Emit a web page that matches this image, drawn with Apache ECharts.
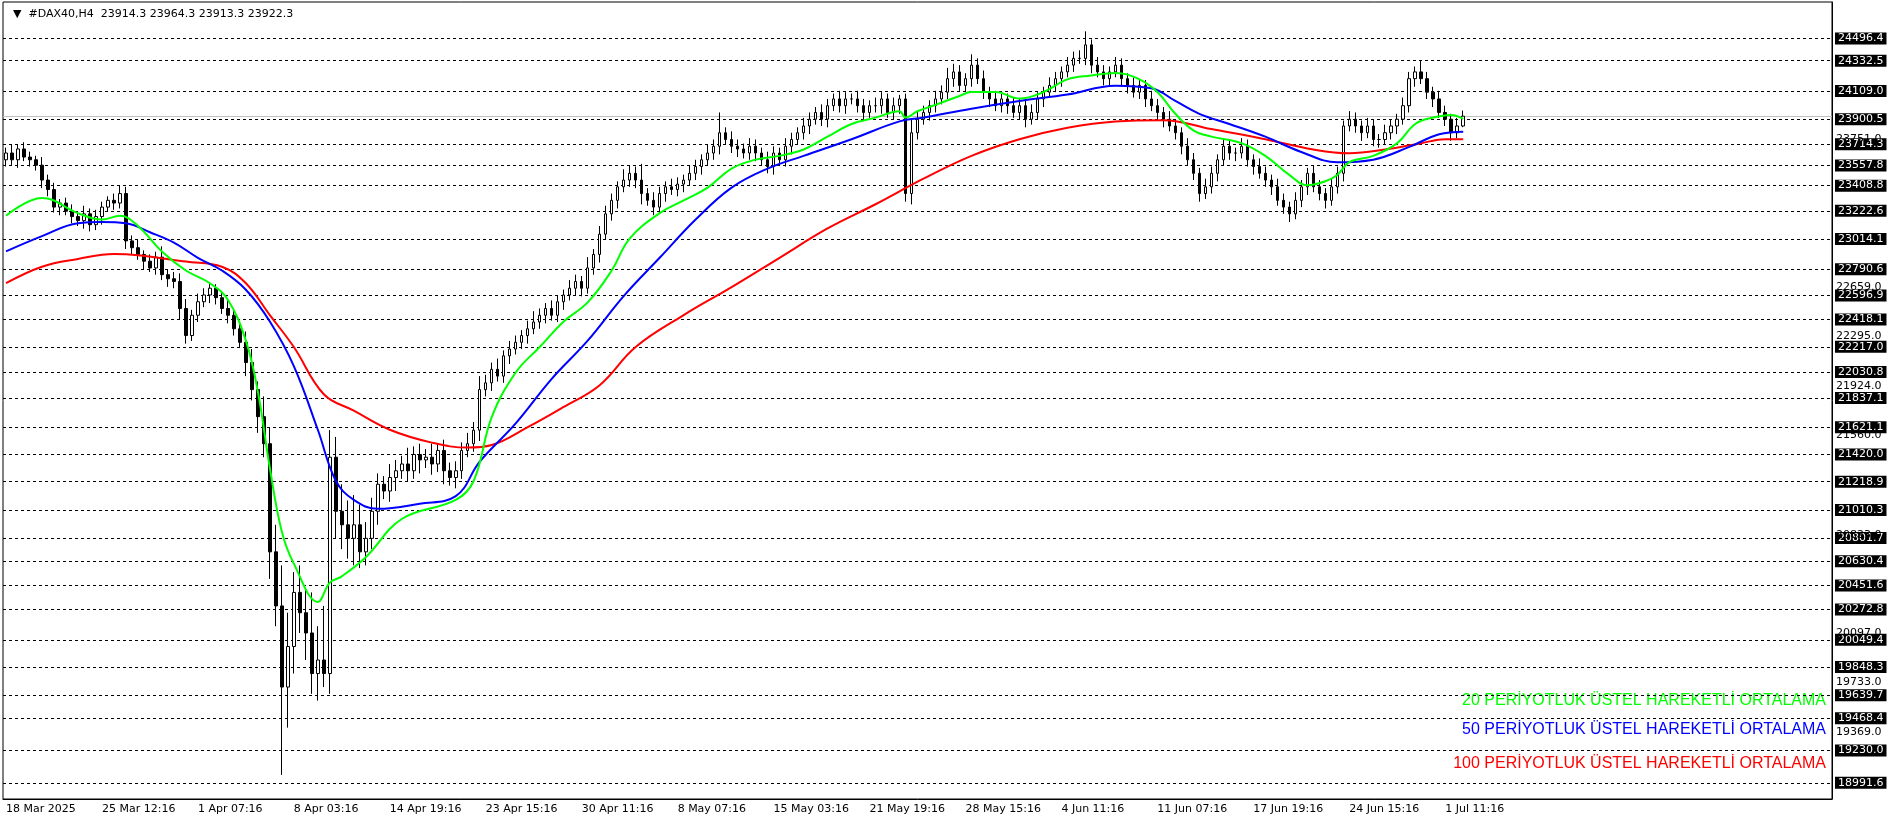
<!DOCTYPE html>
<html><head><meta charset="utf-8">
<script src="https://cdn.jsdelivr.net/npm/echarts@6/dist/echarts.min.js"></script>
<style>html,body{margin:0;padding:0;background:#fff}#c{width:1896px;height:820px}</style>
</head><body><div id="c"></div>
<script>
const closes=[23650,23600,23680,23620,23600,23560,23450,23380,23250,23280,
23220,23180,23150,23200,23120,23180,23250,23300,23280,23350,
23000,22950,22900,22850,22800,22880,22750,22720,22700,22500,
22300,22450,22550,22600,22650,22580,22500,22450,22350,22250,
22100,21900,21700,21500,20700,20300,19700,20000,20400,20250,
20100,19800,19900,19800,21400,21000,20900,20800,20900,20700,
20800,21000,21200,21150,21250,21300,21350,21300,21420,21380,
21400,21350,21450,21300,21250,21300,21450,21500,21600,21900,
21950,22050,22000,22150,22200,22250,22300,22350,22400,22450,
22500,22450,22550,22600,22650,22700,22650,22800,22900,23050,
23200,23300,23400,23450,23500,23450,23350,23300,23250,23350,
23400,23380,23420,23450,23500,23550,23600,23650,23700,23800,
23750,23700,23680,23650,23700,23650,23600,23550,23650,23600,
23700,23750,23800,23850,23900,23950,23900,24000,24050,24000,
24050,24050,24000,23950,24000,24000,24050,23950,24000,24050,
23350,23800,23900,23950,24000,24050,24100,24200,24250,24150,
24200,24300,24200,24100,24050,24000,24050,24000,23950,24000,
23900,23950,24050,24100,24150,24200,24250,24300,24350,24350,
24450,24300,24250,24200,24250,24300,24200,24150,24100,24150,
24050,24000,23950,23900,23850,23800,23700,23600,23500,23350,
23400,23500,23600,23700,23650,23650,23700,23600,23550,23500,
23450,23400,23300,23250,23200,23300,23400,23500,23400,23350,
23300,23400,23500,23850,23900,23850,23800,23850,23750,23750,
23800,23850,23900,24000,24200,24250,24200,24100,24050,23950,
23900,23800,23850,23922.3];
const firstOpen=23600;
const hiWick=[40,60,30,50,40,30,60,40,50,30,40,50,30,60,40,50,40,30,50,60,
50,40,60,30,50,40,80,40,50,60,70,40,60,50,40,30,50,60,40,50,
80,100,60,150,120,200,300,250,150,200,180,300,250,400,200,150,200,180,220,150,
120,100,80,60,100,80,60,120,60,80,60,100,50,80,60,70,60,80,60,100,
60,50,80,40,60,50,40,60,80,50,40,60,50,40,60,50,40,80,40,60,
60,50,40,80,60,50,120,40,60,50,40,60,50,40,60,50,40,60,50,150,
40,60,50,40,60,50,40,60,50,40,60,50,40,60,50,40,60,50,40,60,
50,40,60,50,40,60,50,40,60,30,40,100,60,50,40,60,50,80,60,50,
40,80,50,60,40,60,50,40,60,50,40,60,50,40,60,50,40,60,50,60,
100,40,60,50,40,60,50,40,60,50,40,60,50,40,60,50,40,60,50,40,
60,50,40,60,50,40,60,50,40,60,50,40,60,50,40,60,50,40,60,50,
40,60,50,40,60,50,40,60,50,40,60,50,40,60,50,40,80,50,40,60,
50,40,60,42];
const loWick=[50,40,60,30,50,40,60,50,40,60,30,50,40,60,50,40,60,30,50,40,
60,50,40,60,30,50,40,60,50,80,60,40,50,40,60,50,40,60,50,40,
100,80,120,100,200,150,650,300,200,150,200,150,200,100,150,200,180,150,200,120,
100,80,100,60,80,100,60,80,60,100,60,80,60,100,60,80,60,50,60,80,
50,60,40,50,60,40,50,60,40,50,60,40,50,60,40,50,60,40,50,60,
40,50,60,40,50,60,80,40,60,50,60,40,50,60,40,50,60,40,50,60,
40,50,60,40,50,60,40,50,60,40,50,60,40,50,60,40,50,60,40,50,
60,40,50,60,40,50,60,40,50,60,60,80,50,40,60,50,40,50,60,40,
50,60,40,50,60,40,50,60,40,50,60,40,50,60,40,50,60,40,50,40,
50,60,40,50,60,40,50,60,40,50,60,40,50,60,40,50,60,40,50,60,
40,50,60,40,50,60,40,50,60,40,50,60,40,50,60,40,50,60,40,50,
60,40,50,60,40,50,60,40,50,60,40,50,60,40,50,60,40,50,60,40,
50,60,40,9];
const ema20=[[0,23186],[6,23318],[12,23205],[16,23158],[19,23186],[22,23111],[26,22922],[30,22781],[34,22687],[37,22564],[40,22262],[42,21885],[44,21320],[46,20849],[48,20613],[52,20330],[54,20472],[56,20519],[60,20660],[66,20943],[75,21084],[78,21226],[81,21697],[85,22027],[89,22215],[93,22404],[97,22545],[101,22781],[104,23017],[109,23205],[113,23299],[117,23394],[121,23535],[125,23601],[129,23629],[133,23676],[137,23771],[141,23865],[145,23912],[149,23959],[150,23912],[152,23959],[155,24006],[159,24072],[161,24101],[165,24101],[169,24053],[173,24101],[177,24195],[181,24223],[185,24242],[189,24195],[192,24101],[195,23940],[198,23818],[201,23771],[206,23723],[210,23629],[214,23488],[217,23412],[220,23441],[222,23488],[224,23582],[228,23629],[232,23723],[235,23865],[238,23912],[241,23931],[243,23903]];
const ema50=[[0,22922],[6,23035],[12,23130],[16,23139],[20,23130],[24,23064],[28,22988],[32,22875],[36,22781],[40,22639],[44,22404],[48,22074],[52,21603],[55,21226],[58,21084],[62,21018],[69,21056],[75,21112],[79,21367],[85,21650],[91,21980],[97,22262],[103,22592],[109,22875],[115,23158],[121,23394],[127,23535],[133,23629],[141,23752],[149,23884],[153,23912],[161,23978],[169,24035],[177,24082],[185,24148],[191,24129],[195,24035],[199,23940],[204,23865],[210,23771],[216,23658],[222,23582],[228,23601],[234,23695],[239,23789],[243,23808]];
const ema100=[[0,22687],[6,22809],[12,22866],[18,22903],[22,22894],[30,22847],[36,22809],[40,22687],[44,22451],[48,22215],[53,21866],[58,21744],[64,21603],[71,21508],[77,21471],[81,21490],[87,21622],[93,21772],[99,21933],[105,22215],[113,22451],[121,22658],[129,22875],[137,23092],[145,23271],[153,23460],[161,23629],[169,23752],[177,23837],[185,23884],[193,23893],[201,23827],[210,23752],[218,23676],[224,23648],[230,23676],[236,23723],[240,23752],[243,23752]];
const levels=[24496.4,24332.5,24109.0,23900.5,23714.3,23557.8,23408.8,23222.6,23014.1,22790.6,22596.9,22418.1,22217.0,22030.8,21837.1,21621.1,21420.0,21218.9,21010.3,20801.7,20630.4,20451.6,20272.8,20049.4,19848.3,19639.7,19468.4,19230.0,18991.6];
const axisTicks=[23751.0,22659.0,22295.0,21924.0,21560.0,20823.0,20097.0,19733.0,19369.0];
const dateLabels=['18 Mar 2025','25 Mar 12:16','1 Apr 07:16','8 Apr 03:16','14 Apr 19:16','23 Apr 15:16','30 Apr 11:16','8 May 07:16','15 May 03:16','21 May 19:16','28 May 15:16','4 Jun 11:16','11 Jun 07:16','17 Jun 19:16','24 Jun 15:16','1 Jul 11:16'];
const lastPrice=23922.3;
const title='▼  #DAX40,H4  23914.3 23964.3 23913.3 23922.3';
const legendTexts=['20 PERİYOTLUK ÜSTEL HAREKETLİ ORTALAMA','50 PERİYOTLUK ÜSTEL HAREKETLİ ORTALAMA','100 PERİYOTLUK ÜSTEL HAREKETLİ ORTALAMA'];

const TOTAL=305, STEP=16;
const cats=[];for(let i=0;i<TOTAL;i++)cats.push(String(i));
const candles=closes.map((c,i)=>{const o=i===0?firstOpen:closes[i-1];return [o,c,Math.min(o,c)-loWick[i],Math.max(o,c)+hiWick[i]];});
const F='DejaVu Sans';
const chart=echarts.init(document.getElementById('c'));
chart.setOption({
 animation:false,
 grid:{left:3,right:64,top:2,bottom:21,show:true,borderColor:'#000',borderWidth:1,backgroundColor:'#fff'},
 title:{text:title,left:8,top:4,textStyle:{fontSize:11,fontWeight:'normal',color:'#000',fontFamily:F}},
 graphic:legendTexts.map((t,k)=>({type:'text',right:70,top:[693,722,756][k],style:{text:t,fill:['#00ff00','#0000ff','#ff0000'][k],font:'16px "Liberation Sans"'}})),
 xAxis:{type:'category',data:cats,boundaryGap:true,
  axisLine:{lineStyle:{color:'#000'}},
  axisTick:{interval:(i)=>i%STEP===0,length:4,lineStyle:{color:'#000'}},
  axisLabel:{interval:(i)=>i%STEP===0,formatter:(v,i)=>dateLabels[i/STEP]||'',align:'left',margin:5,color:'#000',fontSize:11,fontFamily:F},
  splitLine:{show:false}},
 yAxis:{type:'value',position:'right',min:18872,max:24767,axisLabel:{show:false},axisTick:{show:false},splitLine:{show:false},axisLine:{show:true,lineStyle:{color:'#000'}}},
 series:[
  {type:'line',data:ema100,symbol:'none',z:1,lineStyle:{color:'transparent',width:0},silent:true,
   markLine:{silent:true,symbol:'none',lineStyle:{color:'transparent',width:0,type:'solid'},
    label:{show:true,position:'end',distance:4,color:'#000',fontSize:11,fontFamily:F,formatter:(p)=>Number(p.value).toFixed(1)},
    data:axisTicks.map(v=>({yAxis:v}))}},
  {type:'candlestick',data:candles,barWidth:3,z:3,
   itemStyle:{color:'#fff',color0:'#000',borderColor:'#000',borderColor0:'#000',borderWidth:1},
   markLine:{silent:true,symbol:'none',z:2,
    lineStyle:{color:'#000',type:[3,3],width:1},
    label:{position:'end',distance:3,color:'#fff',backgroundColor:'#000',padding:[1,3,0,3],fontSize:11,fontFamily:F,formatter:(p)=>p.value.toFixed(1)},
    data:levels.map(v=>({yAxis:v})).concat([{yAxis:lastPrice,lineStyle:{color:'#c0c0c0',type:'solid'},label:{show:false}}])}},
  {type:'line',data:ema100,smooth:0.4,symbol:'none',z:4,lineStyle:{color:'#ff0000',width:2}},
  {type:'line',data:ema50,smooth:0.4,symbol:'none',z:4,lineStyle:{color:'#0000ff',width:2}},
  {type:'line',data:ema20,smooth:0.4,symbol:'none',z:4,lineStyle:{color:'#00ff00',width:2}}
 ]
});
</script></body></html>
